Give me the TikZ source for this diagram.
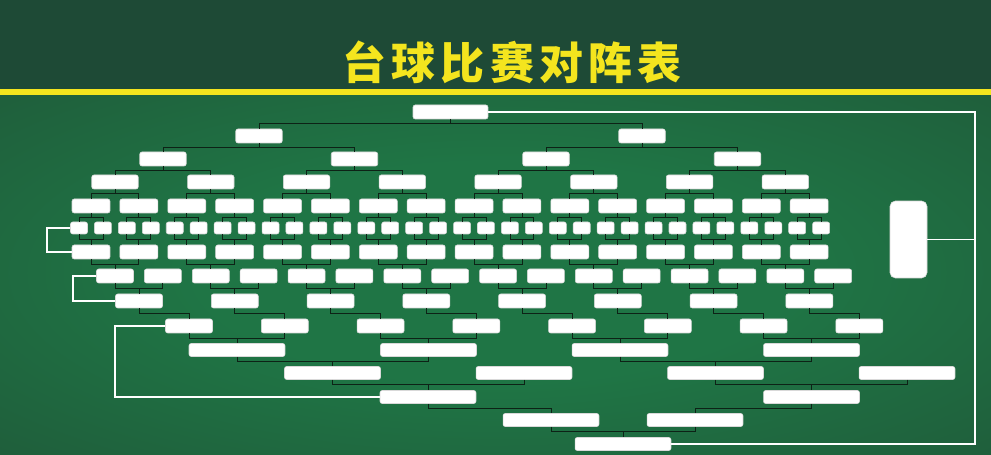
\documentclass[tikz,border=0pt]{standalone}
\usepackage{fontspec}
\usepackage{tikz}
\usetikzlibrary{calc, positioning}
\newfontfamily\titlefont[LetterSpace=12]{Noto Sans CJK SC}
\definecolor{boardtop}{HTML}{1E4A36}
\definecolor{glowin}{HTML}{1F7545}
\definecolor{glowout}{HTML}{1F3F2E}
\definecolor{chalkyellow}{HTML}{F4E51E}
\definecolor{linkdark}{HTML}{0D2216}
\pgfdeclareradialshading{glow}{\pgfpoint{0bp}{0bp}}{color(0bp)=(glowin); color(15bp)=(glowin); color(42bp)=(glowin!45!glowout); color(58bp)=(glowout); color(75bp)=(glowout)}

\begin{document}
\begin{tikzpicture}[x=0.02cm, y=-0.02cm]
	\tikzstyle{slot} = [draw=black!15, line width=0.3pt, fill=white, rounded corners=1.2pt, inner sep=0pt, minimum height=0.28cm]
	\tikzstyle{link} = [draw=linkdark, line width=0.45pt]
	\tikzstyle{wire} = [draw=white, line width=1.1pt]

	\useasboundingbox (0,0) rectangle (991,455);
	\fill[boardtop] (0,0) rectangle (991,90);
	\shade[shading=glow] (0,90) rectangle (991,455);
	\fill[chalkyellow] (0,89) rectangle (991,95);

	\node[text=chalkyellow, font=\titlefont\bfseries\fontsize{25}{25}\selectfont] (title) at (512,62) {台球比赛对阵表};

	\begin{scope}
		\node[slot, minimum width=1.5cm] (a) at (450.5,112) {};
		\foreach \i/\x in {1/259, 2/642}
			\node[slot, minimum width=0.93cm] (b\i) at (\x,136) {};
		\foreach \i in {1,...,4}
			\node[slot, minimum width=0.93cm] (c\i) at ({163+191.5*(\i-1)},159) {};
		\foreach \i in {1,...,8}
			\node[slot, minimum width=0.93cm] (d\i) at ({115+95.76*(\i-1)},182) {};
		\foreach \i in {1,...,16}
			\node[slot, minimum width=0.76cm] (e\i) at ({91+47.88*(\i-1)},206) {};
		\foreach \i in {1,...,32}
			\node[slot, minimum width=0.34cm, minimum height=0.24cm] (f\i) at ({79+23.94*(\i-1)},228) {};
	\end{scope}

	\begin{scope}
		\foreach \i in {1,...,16}
			\node[slot, minimum width=0.76cm] (g\i) at ({91+47.88*(\i-1)},252) {};
		\foreach \i in {1,...,16}
			\node[slot, minimum width=0.74cm] (h\i) at ({115+47.88*(\i-1)},276) {};
		\foreach \i in {1,...,8}
			\node[slot, minimum width=0.94cm] (i\i) at ({139+95.76*(\i-1)},301) {};
		\foreach \i in {1,...,8}
			\node[slot, minimum width=0.94cm] (j\i) at ({189+95.76*(\i-1)},326) {};
		\foreach \i in {1,...,4}
			\node[slot, minimum width=1.92cm, minimum height=0.26cm] (k\i) at ({237+191.5*(\i-1)},350) {};
		\foreach \i/\x in {1/332.5, 2/524, 3/715.5, 4/907}
			\node[slot, minimum width=1.92cm, minimum height=0.26cm] (l\i) at (\x,373) {};
		\foreach \i/\x in {1/428, 2/811.5}
			\node[slot, minimum width=1.92cm, minimum height=0.26cm] (m\i) at (\x,397) {};
		\foreach \i/\x in {1/551, 2/695}
			\node[slot, minimum width=1.92cm, minimum height=0.26cm] (n\i) at (\x,420) {};
		\node[slot, minimum width=1.92cm, minimum height=0.26cm] (o) at (623,444) {};
	\end{scope}

	\node[slot, minimum width=0.74cm, minimum height=1.54cm, rounded corners=3pt] (champ) at (908.5,239.5) {};

	\foreach \i in {1,2}
		\draw[link] (a.south) -- ++(0,4.5) -| (b\i.north);
	\foreach \i in {1,...,4} {
		\pgfmathtruncatemacro\p{(\i+1)/2}
		\draw[link] (b\p.south) -- ++(0,4.5) -| (c\i.north);
	}
	\foreach \i in {1,...,8} {
		\pgfmathtruncatemacro\p{(\i+1)/2}
		\draw[link] (c\p.south) -- ++(0,4.5) -| (d\i.north);
	}
	\foreach \i in {1,...,16} {
		\pgfmathtruncatemacro\p{(\i+1)/2}
		\draw[link] (d\p.south) -- ++(0,4.5) -| (e\i.north);
	}
	\foreach \i in {1,...,32} {
		\pgfmathtruncatemacro\p{(\i+1)/2}
		\draw[link] (e\p.south) -- ++(0,4.5) -| (f\i.north);
		\draw[link] (f\i.south) -- ++(0,5) -| (g\p.north);
	}
	\foreach \i in {1,...,16} {
		\pgfmathtruncatemacro\p{(\i+1)/2}
		\pgfmathtruncatemacro\q{2*\p-1}
		\draw[link] (g\i.south) -- ++(0,5) -| (h\q.north);
		\draw[link] (h\i.south) -- ++(0,5) -| (i\p.north);
	}
	\foreach \i in {1,...,8} {
		\pgfmathtruncatemacro\p{(\i+1)/2}
		\draw[link] (i\i.south) -- ++(0,5) -| (j\i.north);
		\draw[link] (j\i.south) -- ++(0,5) -| (k\p.north);
	}
	\foreach \i/\t in {1/1, 2/1, 3/3, 4/3}
		\draw[link] (k\i.south) -- ++(0,5) -| (l\t.north);
	\foreach \i/\t in {1/1, 2/1, 3/2, 4/2}
		\draw[link] (l\i.south) -- ++(0,5) -| (m\t.north);
	\foreach \i in {1,2} {
		\draw[link] (m\i.south) -- ++(0,5) -| (n\i.north);
		\draw[link] (n\i.south) -- ++(0,5) -| (o.north);
	}

	\coordinate (rim) at (975,112);
	\draw[wire] (f1.west) -- ++(-23,0) |- (g1.west);
	\draw[wire] (h1.west) -- ++(-23,0) |- (i1.west);
	\draw[wire] (j1.west) -- ++(-50,0) |- (m1.west);
	\draw[wire] (a.east) -- (a.east -| rim) |- (o.east);
	\draw[wire] (champ.east) -- (champ.east -| rim);
\end{tikzpicture}
\end{document}
